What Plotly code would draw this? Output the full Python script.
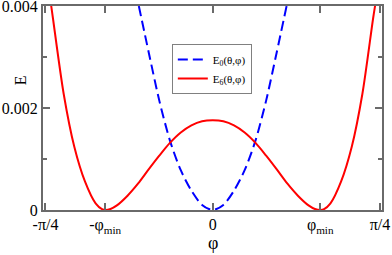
import math
import plotly.graph_objects as go

# ---- data ----
phi_e0 = [-0.347, -0.30, -0.25, -0.20, -0.15, -0.10, -0.05, 0.0,
          0.05, 0.10, 0.15, 0.20, 0.25, 0.30, 0.347]
e0_vals = [0.0040, 0.00308, 0.00213, 0.00135, 0.00078, 0.00038, 0.00010, 0.0,
           0.00010, 0.00038, 0.00078, 0.00135, 0.00213, 0.00308, 0.0040]

phi_e6 = [-0.765, -0.75, -0.70, -0.65, -0.60, -0.55, -0.52, -0.504, -0.48, -0.45,
          -0.40, -0.35, -0.30, -0.25, -0.20, -0.15, -0.10, -0.05, 0.0,
          0.05, 0.10, 0.15, 0.20, 0.25, 0.30, 0.35, 0.40, 0.45, 0.48,
          0.507, 0.523, 0.553, 0.603, 0.653, 0.703, 0.753, 0.770]
e6_vals = [0.0042, 0.00375, 0.00228, 0.00124, 0.00056, 0.00013, 0.000017, 0.0, 0.00002, 0.00009,
           0.00028, 0.00052, 0.00080, 0.00107, 0.00132, 0.00152, 0.00166, 0.00174, 0.00176,
           0.00174, 0.00166, 0.00152, 0.00132, 0.00107, 0.00080, 0.00052, 0.00028, 0.00009, 0.00002,
           0.0, 0.000017, 0.00013, 0.00056, 0.00124, 0.00228, 0.00375, 0.0042]

phi_min = 0.505
x_tickvals = [-math.pi / 4, -phi_min, 0, phi_min, math.pi / 4]
x_ticktext = ["-π/4", "-φ<sub>min</sub>", "0", "φ<sub>min</sub>", "π/4"]
y_tickvals = [0, 0.002, 0.004]
y_ticktext = ["0", "0.002", "0.004"]

SERIF = "Liberation Serif"
AXC = "#6a6a6a"

fig = go.Figure()
fig.add_trace(go.Scatter(
    x=phi_e0, y=e0_vals, mode="lines", name="E<sub>0</sub>(θ,φ)",
    line=dict(color="#0000ff", width=2, dash="10px,5px", shape="spline", smoothing=0.8),
))
fig.add_trace(go.Scatter(
    x=phi_e6, y=e6_vals, mode="lines", name="E<sub>6</sub>(θ,φ)",
    line=dict(color="#ff0000", width=2, shape="spline", smoothing=0.8),
))

fig.update_layout(
    width=392, height=255,
    margin=dict(l=43, r=10, t=6, b=45, autoexpand=False),
    paper_bgcolor="white", plot_bgcolor="white",
    font=dict(family=SERIF, size=15, color="black"),
    showlegend=True,
    legend=dict(
        x=0.38, y=0.691, xanchor="left", yanchor="middle",
        bgcolor="white", bordercolor="#808080", borderwidth=1,
        font=dict(family=SERIF, size=11, color="black"),
        itemwidth=30, tracegroupgap=0,
    ),
)

fig.update_xaxes(
    range=[-0.797, 0.795], automargin=False, ticklabeloverflow="allow",
    tickmode="array", tickvals=x_tickvals, ticktext=x_ticktext,
    ticks="inside", ticklen=7, tickwidth=1.5, tickcolor=AXC,
    ticklabelstandoff=-1,
    showline=True, linecolor=AXC, linewidth=2, mirror="ticks",
    showgrid=False, zeroline=False,
    tickfont=dict(family=SERIF, size=16, color="black"),
)
fig.update_yaxes(
    range=[0, 0.004], automargin=False, ticklabeloverflow="allow",
    tickmode="array", tickvals=y_tickvals, ticktext=y_ticktext,
    ticks="inside", ticklen=7, tickwidth=1.5, tickcolor=AXC,
    minor=dict(ticks="inside", ticklen=4, dtick=0.001, tickcolor=AXC, tickwidth=1.5, showgrid=False),
    showline=True, linecolor=AXC, linewidth=2, mirror="ticks",
    showgrid=False, zeroline=False,
    tickfont=dict(family=SERIF, size=16, color="black"),
)

fig.add_annotation(text="E", xref="paper", yref="paper", x=-0.095, y=0.672,
                   showarrow=False, textangle=-90,
                   font=dict(family=SERIF, size=16, color="black"))
fig.add_annotation(text="φ", xref="paper", yref="paper", x=0.5, y=-0.162,
                   showarrow=False, xanchor="center", yanchor="middle",
                   font=dict(family=SERIF, size=18, color="black"))

fig.write_html("out.html", config={"displayModeBar": False},
               post_script="document.body.style.margin='0';document.body.style.overflow='hidden';")
